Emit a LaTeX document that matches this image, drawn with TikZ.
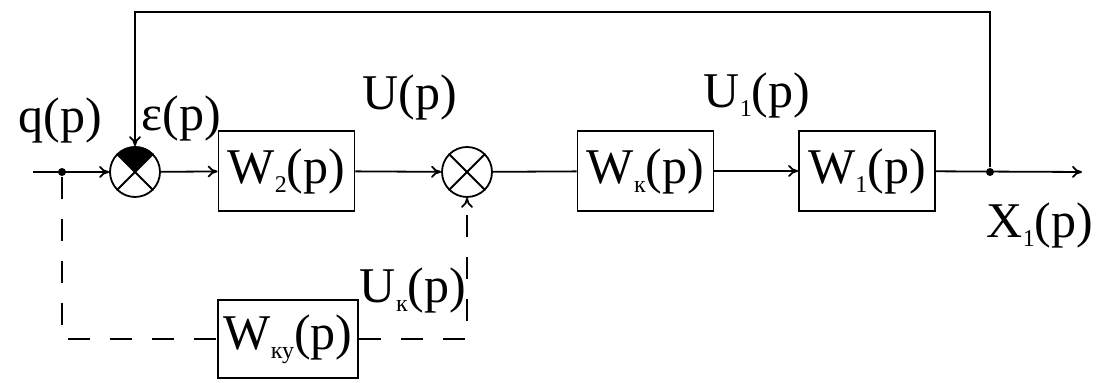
\documentclass[tikz,border=0pt]{standalone}
\usepackage{fontspec}
\setmainfont{Liberation Serif}
\usetikzlibrary{arrows.meta}
\newcommand{\lw}[1]{\raisebox{-0.4ex}{\fontsize{12}{12}\selectfont #1}}
\tikzset{
  blk/.style={draw, line width=0.9pt, minimum width=68pt, minimum height=40pt, inner sep=0pt},
  summ/.style={draw, circle, line width=0.9pt, minimum size=25pt, inner sep=0pt},
  lbl/.style={inner sep=0pt},
  dot/.style={circle, fill, inner sep=0pt, minimum size=4pt},
  dsh/.style={dash pattern=on 11pt off 10pt},
}
\begin{document}
\begin{tikzpicture}[x=0.5pt, y=0.5pt, line width=0.9pt, >={To[length=5pt,width=6pt]},
  every node/.style={font=\fontsize{25}{30}\selectfont}]
\useasboundingbox (0,0) rectangle (1098,383);
% main path
\node[dot] (q) at (62,211) {};
\node[summ] (s1) at (135,211) {};
\node[blk] (w2) at (286.5,212) {W\lw{2}(p)};
\node[summ] (s2) at (467,211) {};
\node[blk] (wk) at (645.5,212) {W\lw{к}(p)};
\node[blk] (w1) at (867,212) {W\lw{1}(p)};
\node[dot] (x) at (990,211) {};
\coordinate (in) at (33,211);
\coordinate (out) at (1082,211);
\node[blk, minimum width=70pt, minimum height=39pt] (wky) at (288,44) {W\lw{ку}(p)};
% crosses in the sum nodes
\fill (s1.center) -- (s1.45) arc[start angle=45, end angle=135, radius=12.5pt] -- cycle;
\foreach \s in {s1, s2} {
  \draw (\s.45) -- (\s.225);
  \draw (\s.135) -- (\s.315);
}
% connectors
\draw[->] (in) -- (s1);
\draw[->] (s1) -- (w2);
\draw[->] (w2) -- (s2);
\draw (s2) -- (wk);
\draw[->] (wk) -- (w1);
\draw[->] (w1) -- (out);
\draw[->] (x) |- (135,371) -- (s1.north);
% compensation branch
\draw[dsh] (q) |- (wky.west);
\draw[dsh, ->] (wky.east) -| (s2.south);
% labels
\node[lbl] (lq) at (60,263) {q(p)};
\node[lbl] (le) at (181,265) {ε(p)};
\node[lbl] (lu) at (410,286) {U(p)};
\node[lbl] (lu1) at (757,288) {U\lw{1}(p)};
\node[lbl] (lx) at (1040,158) {X\lw{1}(p)};
\node[lbl] (luk) at (413,93) {U\lw{к}(p)};
\end{tikzpicture}
\end{document}
